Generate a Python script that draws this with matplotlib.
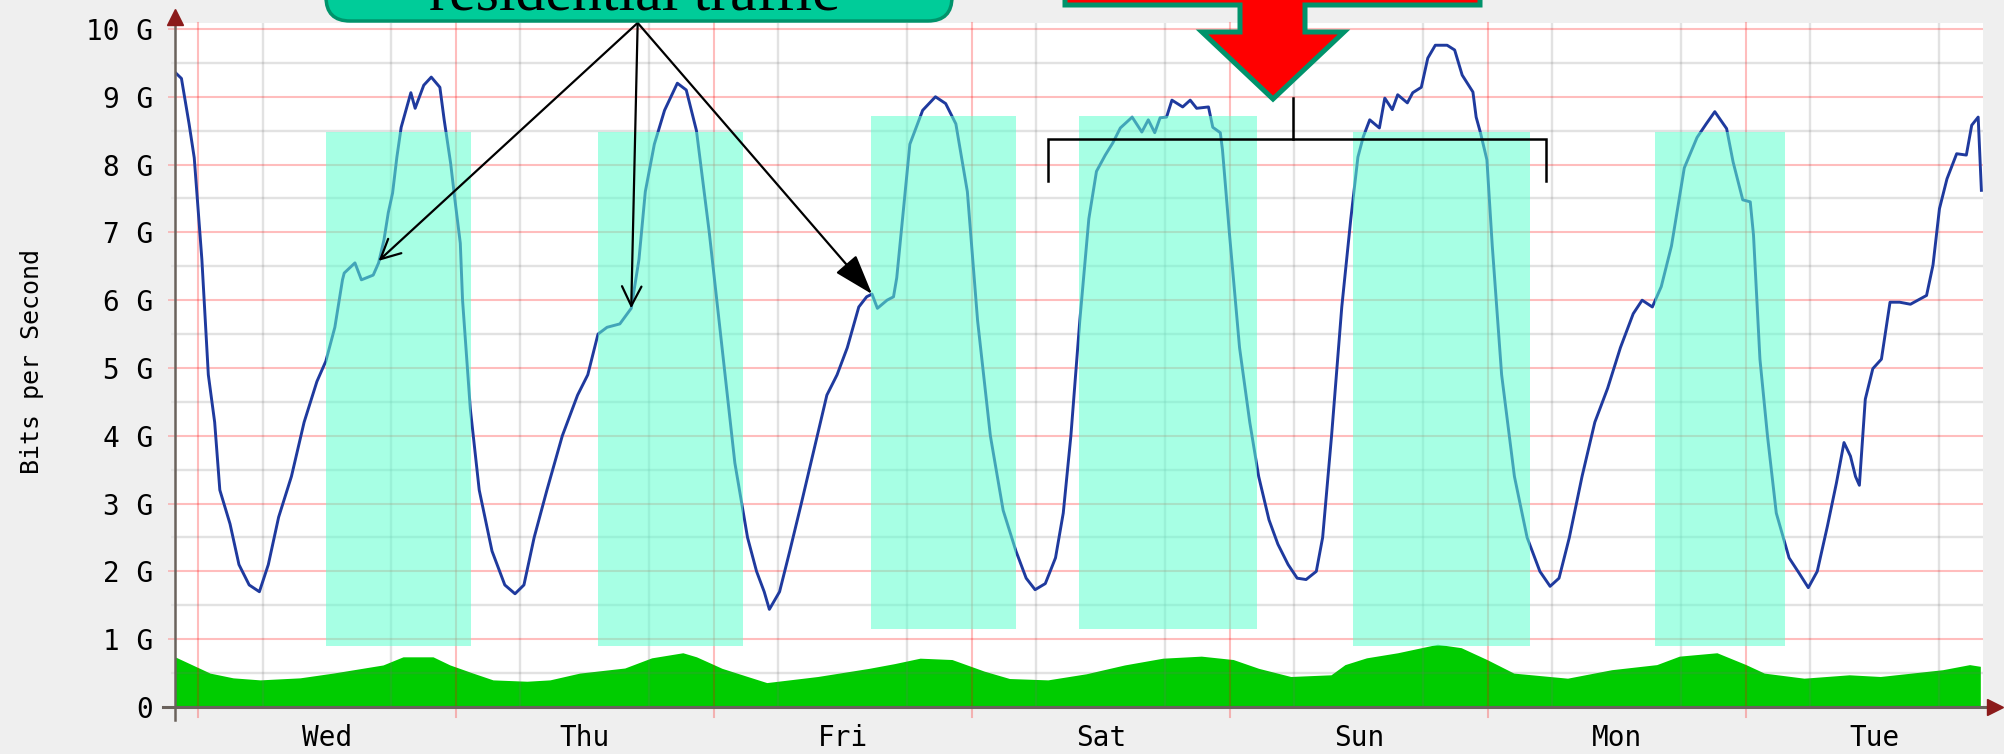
import numpy as np
import matplotlib
matplotlib.use("Agg")
import matplotlib.pyplot as plt
from matplotlib.patches import Rectangle, FancyBboxPatch, Polygon
from matplotlib.transforms import Affine2D

# ------------------------
# Data (x = hours since Wed 00:00, y = Gbit/s)
# ------------------------
days = ["Wed", "Thu", "Fri", "Sat", "Sun", "Mon", "Tue"]
ytick_labels = ["0"] + ["%d G" % g for g in range(1, 11)]

# aggregated traffic (blue line)
total_hours = [-2.13, -1.54, -0.83, -0.35, 0.36, 0.96, 1.55, 2.03, 2.98, 3.81,
               4.76, 5.71, 6.54, 7.5, 8.69, 9.87, 11.06, 11.89, 12.73, 13.44,
               13.6, 14.6, 15.2, 16.3, 16.8, 17.3, 17.7, 18.1, 18.5, 18.9,
               19.8, 20.2, 21.0, 21.7, 22.5, 22.9, 23.5, 23.9, 24.4, 24.61,
               25.33, 26.16, 27.35, 28.54, 29.49, 30.32, 31.27, 32.46, 33.89, 35.31,
               36.26, 37.21, 38.05, 39.24, 40.3, 41.02, 41.61, 42.45, 43.4, 44.59,
               45.42, 46.37, 47.56, 48.75, 49.94, 51.12, 51.96, 52.67, 53.15, 54.1,
               55.05, 56.12, 57.31, 58.5, 59.45, 60.4, 61.47, 62.2, 62.7, 63.2,
               64.1, 64.7, 65.0, 65.6, 66.22, 67.41, 68.6, 69.55, 70.5, 71.57,
               72.52, 73.71, 74.9, 76.09, 77.04, 77.87, 78.82, 79.77, 80.49, 81.2,
               82.03, 82.87, 83.58, 84.4, 85.1, 85.8, 86.9, 87.8, 88.4, 89.0,
               89.5, 90.1, 90.6, 91.6, 92.3, 92.9, 94.0, 94.4, 95.1, 95.3,
               95.94, 96.89, 97.84, 98.67, 99.63, 100.46, 101.41, 102.25, 103.08, 104.03,
               104.62, 105.45, 106.4, 107.24, 107.9, 108.4, 109.0, 109.9, 110.4, 111.1,
               111.6, 112.5, 113.0, 113.8, 114.4, 115.1, 116.2, 116.9, 117.6, 118.6,
               118.9, 119.3, 119.9, 120.4, 121.27, 122.46, 123.64, 124.83, 125.78, 126.61,
               127.57, 128.75, 129.94, 131.13, 132.32, 133.51, 134.34, 135.29, 136.12, 137.07,
               138.26, 139.45, 140.3, 141.1, 142.2, 142.8, 143.7, 144.4, 144.7, 145.3,
               146.0, 146.82, 148.01, 148.96, 149.8, 150.63, 151.58, 152.41, 153.12, 153.72,
               154.19, 154.55, 155.1, 155.8, 156.6, 157.4, 158.3, 159.3, 160.8, 161.4,
               162.0, 162.7, 163.6, 164.5, 165.0, 165.6, 165.9]
total_gbps = [9.36, 9.27, 8.6, 8.1, 6.6, 4.9, 4.2, 3.2, 2.7, 2.1,
              1.8, 1.7, 2.1, 2.8, 3.4, 4.2, 4.8, 5.1, 5.6, 6.3,
              6.4, 6.55, 6.3, 6.37, 6.55, 6.89, 7.29, 7.58, 8.11, 8.55,
              9.06, 8.83, 9.17, 9.29, 9.14, 8.66, 8.02, 7.48, 6.84, 6.0,
              4.4, 3.2, 2.3, 1.8, 1.67, 1.8, 2.5, 3.2, 4.0, 4.6,
              4.9, 5.5, 5.6, 5.65, 5.88, 6.6, 7.6, 8.3, 8.8, 9.2,
              9.1, 8.5, 7.0, 5.3, 3.6, 2.5, 2.0, 1.7, 1.44, 1.7,
              2.3, 3.0, 3.8, 4.6, 4.9, 5.3, 5.9, 6.05, 6.09, 5.88,
              6.0, 6.05, 6.33, 7.3, 8.3, 8.8, 9.0, 8.9, 8.6, 7.6,
              5.7, 4.0, 2.9, 2.3, 1.9, 1.73, 1.82, 2.2, 2.86, 4.0,
              5.7, 7.2, 7.9, 8.14, 8.32, 8.54, 8.7, 8.48, 8.66, 8.47,
              8.69, 8.7, 8.95, 8.85, 8.95, 8.83, 8.85, 8.55, 8.47, 8.22,
              7.0, 5.3, 4.2, 3.4, 2.76, 2.4, 2.1, 1.9, 1.88, 2.0,
              2.5, 4.0, 5.9, 7.2, 8.11, 8.41, 8.66, 8.54, 8.98, 8.81,
              9.03, 8.91, 9.06, 9.14, 9.57, 9.76, 9.76, 9.69, 9.32, 9.07,
              8.7, 8.47, 8.07, 6.8, 4.9, 3.4, 2.5, 2.0, 1.78, 1.9,
              2.5, 3.4, 4.2, 4.7, 5.3, 5.8, 6.0, 5.9, 6.2, 6.8,
              7.95, 8.4, 8.6, 8.78, 8.53, 8.04, 7.48, 7.45, 6.96, 5.13,
              4.0, 2.86, 2.2, 1.97, 1.76, 2.0, 2.67, 3.3, 3.9, 3.7,
              3.4, 3.27, 4.54, 4.99, 5.13, 5.97, 5.97, 5.94, 6.07, 6.52,
              7.35, 7.79, 8.16, 8.14, 8.58, 8.7, 7.62]

# business traffic (green area)
base_hours = [-2.14, 1.12, 3.26, 5.77, 9.49, 12.56, 17.21, 19.07, 21.86, 23.44,
              25.58, 27.44, 30.6, 32.74, 35.5, 39.7, 42.2, 45.1, 46.37, 48.75,
              51.12, 52.91, 57.66, 62.42, 64.8, 67.17, 70.14, 73.12, 75.49, 79.06,
              82.63, 86.19, 89.76, 93.33, 96.3, 98.67, 101.65, 105.4, 106.7, 108.7,
              111.6, 115.3, 117.5, 119.9, 122.4, 127.4, 131.5, 135.7, 137.8, 141.3,
              144.0, 145.7, 149.4, 153.6, 156.5, 159.4, 162.3, 164.8, 165.8]
base_gbps = [0.74, 0.5, 0.43, 0.4, 0.43, 0.5, 0.62, 0.74, 0.74, 0.62,
             0.5, 0.4, 0.38, 0.4, 0.5, 0.575, 0.725, 0.8, 0.74, 0.57,
             0.45, 0.36, 0.45, 0.57, 0.64, 0.72, 0.7, 0.53, 0.42, 0.4,
             0.49, 0.62, 0.72, 0.75, 0.7, 0.57, 0.45, 0.475, 0.625, 0.725,
             0.8, 0.925, 0.875, 0.7, 0.5, 0.425, 0.55, 0.625, 0.75, 0.8,
             0.625, 0.5, 0.425, 0.475, 0.45, 0.5, 0.55, 0.625, 0.6]

# residential peak periods (highlighted)
peak_start = [11.9, 37.2, 62.6, 82.0, 107.4, 135.5]
peak_end = [25.4, 50.7, 76.1, 98.5, 123.9, 147.6]
peak_low = [0.90, 0.90, 1.15, 1.15, 0.90, 0.90]
peak_high = [8.48, 8.48, 8.72, 8.72, 8.48, 8.48]

# ------------------------
# Figure
# ------------------------
W, H = 2004, 754
fig = plt.figure(figsize=(W / 100, H / 100), dpi=100, facecolor="#efefef")
ax = fig.add_axes([175 / W, 47 / H, 1808 / W, 684 / H])
ax.set_facecolor("white")
ax.set_axisbelow("line")

mono = "DejaVu Sans Mono"
red_a = 0.26
gray_a = 0.2

ax.fill_between(base_hours, base_gbps, 0, color="#00cc00", lw=0, zorder=1)
ax.plot(total_hours, total_gbps, color="#1f3a9e", lw=2.1, zorder=3)

for s, e, lo, hi in zip(peak_start, peak_end, peak_low, peak_high):
    ax.add_patch(Rectangle((s, lo), e - s, hi - lo, facecolor="#5fffcf",
                           alpha=0.55, lw=0, zorder=4))

ax.set_xlim(-2.14, 166.05)
ax.set_ylim(0, 10.088)

# y axis
ax.set_yticks(range(0, 11))
ax.set_yticklabels(ytick_labels, family=mono, fontsize=20)
ax.set_yticks(np.arange(0.5, 10, 1), minor=True)
ax.tick_params(axis="y", which="major", length=5, width=1.4, color="#f6bcbc", pad=11)
ax.tick_params(axis="y", which="minor", length=3, width=1.6, color="#e3e3e3")
ax.grid(which="major", axis="y", color="red", alpha=red_a, lw=1.5)

# x axis: labels at noon, gray lines every 6h, red lines at midnight
ax.set_xticks([d * 24 + 12 for d in range(len(days))])
ax.set_xticklabels(days, family=mono, fontsize=20)
ax.tick_params(axis="x", which="major", length=0, pad=12)
ax.set_xticks([h for h in range(6, 168, 6) if h % 24 != 0], minor=True)
ax.tick_params(axis="x", which="minor", length=0)
ax.grid(which="minor", axis="both", color="#707070", alpha=gray_a, lw=1.7)
for d in range(len(days)):
    ax.axvline(d * 24, ymin=-0.015, ymax=1, color="red", alpha=red_a, lw=1.5,
               zorder=1.5, clip_on=False)

for sp in ax.spines.values():
    sp.set_visible(False)
axis_col = "#6a625c"
ax.plot([0, 0], [-0.019, 1.0], transform=ax.transAxes, color=axis_col,
        lw=1.8, clip_on=False, zorder=5)
ax.plot([-0.0066, 1.0028], [0, 0], transform=ax.transAxes, color=axis_col,
        lw=2.2, clip_on=False, zorder=5)
ax.plot(0, 1.0095, marker="^", ms=11, color="#8b1a1a", mec="#8b1a1a",
        transform=ax.transAxes, clip_on=False, zorder=6)
ax.plot(1.0066, 0, marker=">", ms=11, color="#8b1a1a", mec="#8b1a1a",
        transform=ax.transAxes, clip_on=False, zorder=6)

fig.text(32 / W, 1 - 362 / H, "Bits per Second", rotation=90, family=mono,
         fontsize=18, ha="center", va="center")

# ------------------------
# Annotations
# ------------------------
px = Affine2D().scale(0.01, -0.01).translate(0, H / 100) + fig.dpi_scale_trans

box = FancyBboxPatch((326, -70), 626, 91, boxstyle="round,pad=0,rounding_size=24",
                     transform=px, fc="#00cc99", ec="#00936b", lw=2.5, clip_on=False)
fig.patches.append(box)
fig.text(634, 10, "residential traffic", transform=px, ha="center", va="baseline",
         fontsize=43, family="Liberation Serif", color="black")

arrow_pts = [(1065, -30), (1480, -30), (1480, 5), (1305, 5), (1305, 32), (1344, 32),
             (1273, 99), (1202, 32), (1240, 32), (1240, 5), (1065, 5)]
fig.patches.append(Polygon(arrow_pts, closed=True, transform=px, fc="#ff0000",
                           ec="#00936b", lw=3.6, joinstyle="miter", clip_on=False))

origin = (40.9, 10.09)
targets = [(16.8, 6.58), (40.3, 5.88), (62.7, 6.09)]
styles = ["->,head_length=0.5,head_width=0.25", "->,head_length=0.5,head_width=0.25",
          "-|>,head_length=0.9,head_width=0.3"]
for t, st in zip(targets, styles):
    ax.annotate("", xy=t, xytext=origin,
                arrowprops=dict(arrowstyle=st, color="black", lw=1.6,
                                shrinkA=0, shrinkB=0, mutation_scale=28),
                annotation_clip=False, zorder=7)

# bracket over the weekend
ax.plot([79.07, 79.07, 125.4, 125.4], [7.76, 8.38, 8.38, 7.76], color="black",
        lw=1.8, zorder=6, solid_joinstyle="miter")
ax.plot([101.86, 101.86], [8.38, 8.98], color="black", lw=1.8, zorder=6)

fig.savefig("out.png", dpi=100, facecolor=fig.get_facecolor())
